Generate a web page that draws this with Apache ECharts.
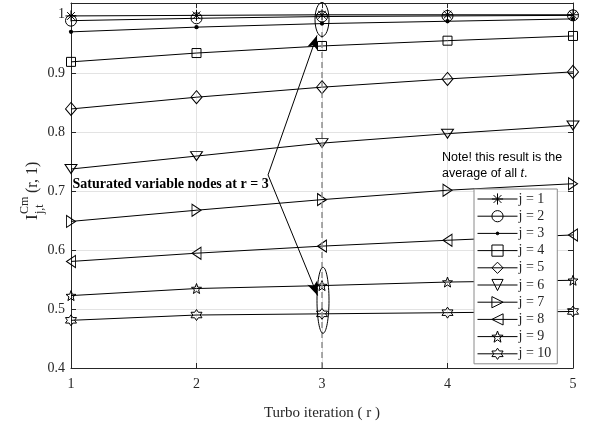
<!DOCTYPE html>
<html>
<head>
<meta charset="utf-8">
<script src="https://cdn.jsdelivr.net/npm/echarts@6/dist/echarts.min.js"></script>
<style>
  html, body { margin: 0; padding: 0; background: #fff; }
  #chart { width: 591px; height: 426px; }
</style>
</head>
<body>
<div id="chart"></div>
<script>
  // turbo iterations on the x axis
  var iterations = [1, 2, 3, 4, 5];
  var seriesNames = ['j = 1', 'j = 2', 'j = 3', 'j = 4', 'j = 5', 'j = 6', 'j = 7', 'j = 8', 'j = 9', 'j = 10'];
  // values
  var j1 = [0.998, 0.999, 1.000, 1.000, 1.000];
  var j2 = [0.990, 0.994, 0.997, 0.998, 0.999];
  var j3 = [0.971, 0.979, 0.985, 0.989, 0.993];
  var j4 = [0.920, 0.935, 0.947, 0.956, 0.964];
  var j5 = [0.840, 0.860, 0.877, 0.891, 0.903];
  var j6 = [0.738, 0.760, 0.782, 0.798, 0.812];
  var j7 = [0.649, 0.668, 0.686, 0.702, 0.713];
  var j8 = [0.581, 0.595, 0.607, 0.617, 0.626];
  var j9 = [0.523, 0.535, 0.540, 0.546, 0.549];
  var j10 = [0.481, 0.490, 0.492, 0.494, 0.496];
  var allValues = [j1, j2, j3, j4, j5, j6, j7, j8, j9, j10];

  var serif = '"Liberation Serif", "Times New Roman", serif';

  // star outline as a symbol path
  function starPath(points, inner) {
    var d = '';
    for (var i = 0; i < points * 2; i++) {
      var r = i % 2 === 0 ? 50 : 50 * inner;
      var a = -Math.PI / 2 + i * Math.PI / points;
      d += (i === 0 ? 'M' : 'L') + (50 + r * Math.cos(a)).toFixed(2) + ',' + (50 + r * Math.sin(a)).toFixed(2);
    }
    return 'path://' + d + 'Z';
  }

  var markers = [
    { symbol: 'path://M10,0L10,20M0,10L20,10M3,3L17,17M3,17L17,3', size: 11 },
    { symbol: 'circle', size: 11 },
    // small dot inside an empty 20x20 box, so the legend keeps it small too
    { symbol: 'path://M0,0M20,20M10,7.6A2.4,2.4,0,1,1,10,12.4A2.4,2.4,0,1,1,10,7.6Z', size: 18, fill: '#000', border: 0 },
    { symbol: 'rect', size: 9 },
    { symbol: 'path://M5,0L10,7L5,14L0,7Z', size: [11, 13] },
    { symbol: 'path://M0,0L12,0L6,9Z', size: [12, 9] },
    { symbol: 'path://M0,0L9,6L0,12Z', size: [9, 12] },
    { symbol: 'path://M9,0L0,6L9,12Z', size: [9, 12] },
    { symbol: starPath(5, 0.42), size: 10 },
    { symbol: starPath(6, 0.577), size: 11 }
  ];

  var series = seriesNames.map(function (name, k) {
    var m = markers[k];
    return {
      name: name,
      type: 'line',
      data: iterations.map(function (x, i) { return [x, allValues[k][i]]; }),
      symbol: m.symbol,
      symbolSize: m.size,
      showAllSymbol: true,
      lineStyle: { color: '#000', width: 1 },
      itemStyle: {
        color: m.fill || 'rgba(0,0,0,0)',
        borderColor: '#000',
        borderWidth: m.border === 0 ? 0 : 1
      },
      emphasis: { disabled: true },
      z: 3
    };
  });

  // dashed guide at r = 3 and the two arrows
  series[9].markLine = {
    silent: true,
    animation: false,
    label: { show: false },
    data: [
      [{ coord: [3, 0.4], symbol: 'none', lineStyle: { type: [6, 4], color: '#8f8f8f', width: 1.5 } },
       { coord: [3, 0.975], symbol: 'none' }],
      [{ coord: [2.57, 0.728], symbol: 'none', lineStyle: { color: '#000', width: 1, type: 'solid' } },
       { coord: [2.96, 0.965], symbol: 'arrow', symbolSize: [8, 14] }],
      [{ coord: [2.57, 0.728], symbol: 'none', lineStyle: { color: '#000', width: 1, type: 'solid' } },
       { coord: [2.965, 0.523], symbol: 'arrow', symbolSize: [8, 14] }]
    ],
    itemStyle: { color: '#000' }
  };

  var chart = echarts.init(document.getElementById('chart'));
  var option = {
    animation: false,
    backgroundColor: '#fff',
    grid: { left: 71, right: 18, top: 3, bottom: 52 },
    xAxis: [{
      type: 'value',
      min: 1, max: 5, interval: 1,
      name: 'Turbo iteration ( r )',
      nameLocation: 'middle',
      nameGap: 38,
      nameTextStyle: { fontFamily: serif, fontSize: 15, color: '#262626' },
      axisLine: { lineStyle: { color: '#262626', width: 1 } },
      axisTick: { inside: true, length: 5, lineStyle: { color: '#262626' } },
      axisLabel: { fontFamily: serif, fontSize: 14, color: '#262626', margin: 9 },
      splitLine: { show: true, lineStyle: { color: '#e3e3e3', width: 1 } }
    }, {
      type: 'value',
      position: 'top',
      min: 1, max: 5, interval: 1,
      axisLine: { lineStyle: { color: '#262626', width: 1 } },
      axisTick: { inside: true, length: 5, lineStyle: { color: '#262626' } },
      axisLabel: { show: false },
      splitLine: { show: false }
    }],
    yAxis: [{
      type: 'value',
      min: 0.4, max: 1.02, interval: 0.1,
      axisLine: { show: true, lineStyle: { color: '#262626', width: 1 } },
      axisTick: { show: true, inside: true, length: 5, lineStyle: { color: '#262626' } },
      axisLabel: { fontFamily: serif, fontSize: 14, color: '#262626', margin: 6, showMaxLabel: false },
      splitLine: { show: true, lineStyle: { color: '#e3e3e3', width: 1 } }
    }, {
      type: 'value',
      position: 'right',
      min: 0.4, max: 1.02, interval: 0.1,
      axisLine: { show: true, lineStyle: { color: '#262626', width: 1 } },
      axisTick: { show: true, inside: true, length: 5, lineStyle: { color: '#262626' } },
      axisLabel: { show: false },
      splitLine: { show: false }
    }],
    legend: {
      orient: 'vertical',
      left: 474,
      top: 189,
      itemWidth: 40,
      itemHeight: 14,
      itemGap: 3.2,
      padding: [3, 6, 3, 3],
      backgroundColor: '#fff',
      borderColor: '#8a8a8a',
      borderWidth: 1,
      lineStyle: { width: 1 },
      itemStyle: { borderWidth: 1 },
      textStyle: { fontFamily: serif, fontSize: 14, color: '#262626', padding: [0, 0, 0, -4] },
      data: seriesNames
    },
    series: series
  };
  chart.setOption(option);

  // annotations placed in data coordinates
  function px(x, y) { return chart.convertToPixel({ gridIndex: 0 }, [x, y]); }
  var topEl = px(3, 0.992);
  var botEl = px(3, 0.515);
  var txt = px(2.575, 0.712);

  chart.setOption({
    graphic: [
      { type: 'ellipse', shape: { cx: topEl[0], cy: topEl[1], rx: 7, ry: 17 }, style: { fill: 'none', stroke: '#000', lineWidth: 1 }, z: 10 },
      { type: 'ellipse', shape: { cx: botEl[0] + 1, cy: botEl[1], rx: 6, ry: 33 }, style: { fill: 'none', stroke: '#000', lineWidth: 1 }, z: 10 },
      {
        type: 'text', x: txt[0], y: txt[1], z: 10,
        style: { text: 'Saturated variable nodes at r = 3', font: 'bold 14px ' + serif, fill: '#000', align: 'right', verticalAlign: 'middle' }
      },
      {
        type: 'text', x: 442, y: 150, z: 10,
        style: {
          text: '{a|Note! this result is the}\n{a|average of all }{i|t}{a|.}',
          rich: {
            a: { fontFamily: '"Liberation Sans", Arial, sans-serif', fontSize: 12.5, lineHeight: 16, fill: '#000' },
            i: { fontFamily: '"Liberation Sans", Arial, sans-serif', fontStyle: 'italic', fontSize: 12.5, lineHeight: 16, fill: '#000' }
          }
        }
      },
      {
        // rotated y-axis label with stacked super/subscripts
        type: 'group', x: 33, y: 190, rotation: Math.PI / 2, z: 10,
        children: [
          { type: 'text', x: -30, y: 0, style: { text: 'I', font: '17px ' + serif, fill: '#262626', verticalAlign: 'middle' } },
          { type: 'text', x: -24, y: -8, style: { text: 'Cm', font: '12px ' + serif, fill: '#262626', verticalAlign: 'middle' } },
          { type: 'text', x: -24, y: 7, style: { text: 'j,t', font: '12px ' + serif, fill: '#262626', verticalAlign: 'middle' } },
          { type: 'text', x: -3, y: 0, style: { text: '(r, 1)', font: '16px ' + serif, fill: '#262626', verticalAlign: 'middle' } }
        ]
      }
    ]
  });
</script>
</body>
</html>
